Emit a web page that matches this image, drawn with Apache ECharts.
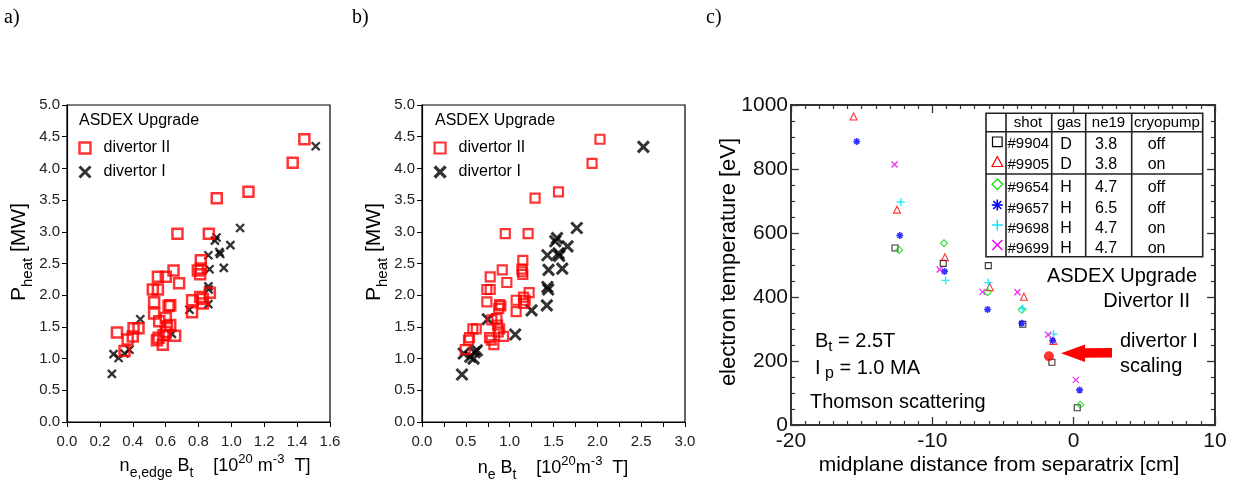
<!DOCTYPE html>
<html>
<head>
<meta charset="utf-8">
<script src="https://cdn.jsdelivr.net/npm/echarts/dist/echarts.min.js"></script>
<style>html,body{margin:0;padding:0;background:#fff}#main{width:1234px;height:486px}</style>
</head>
<body>
<div id="main"></div>
<script>
// a) P_heat vs n_e,edge*B_t
var divIIa = [[1.444,4.46],[1.373,4.09],[1.104,3.63],[0.911,3.53],[0.672,2.97],[0.863,2.97],[0.814,2.55],[0.796,2.39],[0.814,2.42],[0.81,2.33],[0.648,2.39],[0.553,2.29],[0.601,2.29],[0.682,2.19],[0.522,2.09],[0.553,2.09],[0.53,1.89],[0.53,1.71],[0.561,1.59],[0.601,1.64],[0.618,1.83],[0.628,1.84],[0.608,1.51],[0.628,1.53],[0.601,1.42],[0.587,1.37],[0.547,1.29],[0.557,1.33],[0.583,1.22],[0.658,1.36],[0.761,1.92],[0.761,1.73],[0.81,1.97],[0.826,1.94],[0.826,1.87],[0.869,2.04],[0.304,1.41],[0.405,1.48],[0.435,1.48],[0.40,1.35],[0.369,1.30],[0.35,1.12]];
var divIa = [[1.513,4.35],[1.053,3.06],[0.994,2.79],[0.954,2.43],[0.927,2.68],[0.932,2.65],[0.90,2.86],[0.91,2.91],[0.86,2.63],[0.867,2.41],[0.86,2.14],[0.862,2.09],[0.86,1.86],[0.745,1.77],[0.446,1.62],[0.638,1.39],[0.283,1.07],[0.314,1.01],[0.38,1.14],[0.35,1.08],[0.273,0.76]];
// b) P_heat vs n_e*B_t
var divIIb = [[2.03,4.46],[1.94,4.08],[1.557,3.63],[1.29,3.53],[0.95,2.97],[1.21,2.97],[1.15,2.55],[1.14,2.41],[1.145,2.37],[1.15,2.33],[0.915,2.40],[0.778,2.29],[0.968,2.20],[0.74,2.09],[0.778,2.09],[0.74,1.895],[0.885,1.85],[0.90,1.83],[0.875,1.79],[1.074,1.92],[1.074,1.74],[1.158,1.97],[1.177,1.92],[1.158,1.87],[1.222,2.04],[0.797,1.61],[0.854,1.63],[0.862,1.53],[0.885,1.47],[0.87,1.42],[0.93,1.35],[0.77,1.33],[0.79,1.29],[0.82,1.22],[0.58,1.47],[0.619,1.47],[0.542,1.33],[0.53,1.29],[0.493,1.14]];
var divIb = [[2.525,4.34],[1.766,3.06],[1.66,2.77],[1.60,2.42],[1.557,2.66],[1.565,2.62],[1.52,2.85],[1.54,2.90],[1.43,2.63],[1.443,2.40],[1.43,2.13],[1.44,2.09],[1.424,1.84],[1.25,1.76],[0.75,1.62],[1.063,1.38],[0.475,1.08],[0.55,1.03],[0.626,1.13],[0.588,1.0],[0.60,1.10],[0.456,0.75]];
// c) electron temperature vs midplane distance, one list per shot
var shots = ['#9904','#9905','#9654','#9657','#9698','#9699'];
var gases = ['D','D','H','H','H','H'];
var ne19 = ['3.8','3.8','4.7','6.5','4.7','4.7'];
var cryo = ['off','on','off','off','on','on'];
var te9904 = [[-12.64,553],[-9.23,505],[-6.04,498],[-3.6,315],[-1.54,196],[0.25,54]];
var te9905 = [[-15.57,964],[-12.5,673],[-9.11,524],[-5.94,431],[-3.52,401],[-1.44,263]];
var te9654 = [[-12.35,547],[-9.18,568],[-6.09,415],[-3.67,360],[0.47,63]];
var te9657 = [[-15.35,886],[-12.3,592],[-9.14,480],[-6.09,361],[-3.67,318],[-1.49,264],[0.42,109]];
var te9698 = [[-12.23,697],[-9.06,452],[-6.04,445],[-3.6,364],[-1.42,284]];
var te9699 = [[-12.67,814],[-9.48,486],[-6.45,416],[-3.98,415],[-1.8,282],[0.15,141]];
var scalingDivI = [[-1.75,215]];

var FONT = 'Liberation Sans, Arial, sans-serif';
var CROSS = 'path://M0,0L10,10M10,0L0,10';
var PLUS = 'path://M5,0L5,10M0,5L10,5';
var STAR = 'path://M5,0L5,10M0,5L10,5M1.5,1.5L8.5,8.5M8.5,1.5L1.5,8.5';
var RED = '#ff0000', GREEN = '#00d800', BLUE = '#0000ff', CYAN = '#00e0ff', MAGENTA = '#ee00ee';

function fix1(v) { return v.toFixed(1); }

function abAxisX(grid, max, interval, minor) {
    return {
        gridIndex: grid, type: 'value', min: 0, max: max, interval: interval,
        axisLine: {show: true, onZero: false, lineStyle: {color: '#000', width: 1.2}},
        axisTick: {show: true, length: 5, lineStyle: {color: '#000', width: 1}},
        minorTick: {show: minor > 0, splitNumber: minor || 2, length: 5, lineStyle: {color: '#000', width: 1}},
        axisLabel: {fontSize: 15, color: '#222', margin: 12, fontFamily: FONT, formatter: fix1, showMinLabel: true, showMaxLabel: true},
        splitLine: {show: false}, minorSplitLine: {show: false}
    };
}
function abAxisY(grid) {
    return {
        gridIndex: grid, type: 'value', min: 0, max: 5, interval: 0.5,
        axisLine: {show: true, onZero: false, lineStyle: {color: '#000', width: 1.2}},
        axisTick: {show: true, length: 5, lineStyle: {color: '#000', width: 1}},
        axisLabel: {fontSize: 15, color: '#222', margin: 7, fontFamily: FONT, formatter: fix1, showMinLabel: true, showMaxLabel: true},
        splitLine: {show: false}
    };
}
function cAxis(isX, pos, labels) {
    return {
        gridIndex: 2, type: 'value', position: pos,
        min: isX ? -20 : 0, max: isX ? 10 : 1000, interval: isX ? 10 : 200,
        axisLine: {show: true, onZero: false, lineStyle: {color: '#333', width: 2}},
        axisTick: {show: true, inside: true, length: 8, lineStyle: {color: '#333', width: 1.3}},
        minorTick: {show: true, splitNumber: isX ? 10 : 4, length: 4, lineStyle: {color: '#333', width: 1.2}},
        axisLabel: {show: labels, fontSize: 21, color: '#111', margin: isX ? 6 : 3, fontFamily: FONT,
            formatter: function (v) { return String(v); }, showMinLabel: true, showMaxLabel: true},
        splitLine: {show: false}, minorSplitLine: {show: false}
    };
}

function sq(name, data, xi, size, bw) {
    return {name: name, type: 'scatter', xAxisIndex: xi, yAxisIndex: xi, data: data, symbol: 'rect', symbolSize: size,
        itemStyle: {color: 'transparent', borderColor: RED, borderWidth: bw}, z: 3};
}
function cr(name, data, xi, size, bw) {
    return {name: name, type: 'scatter', xAxisIndex: xi, yAxisIndex: xi, data: data, symbol: CROSS, symbolSize: size,
        itemStyle: {color: 'transparent', borderColor: '#000', borderWidth: bw}, z: 2};
}
function shot(name, data, symbol, color, size, bw) {
    return {name: name, type: 'scatter', xAxisIndex: 2, yAxisIndex: 2, data: data, symbol: symbol, symbolSize: size,
        itemStyle: {color: 'transparent', borderColor: color, borderWidth: bw}};
}

function t(x, y, text, fs, align, extra) {
    var s = {x: 0, y: 0, text: text, fontSize: fs, fontFamily: FONT, fill: '#000', align: align || 'left', verticalAlign: 'middle'};
    for (var k in extra) s[k] = extra[k];
    return {type: 'text', x: x, y: y, style: s, z: 10};
}
function richSet(main, sub, subDrop) {
    return {
        m: {fontSize: main, fontFamily: FONT, fill: '#000'},
        s: {fontSize: sub, fontFamily: FONT, fill: '#000', padding: [subDrop, 0, 0, 0]},
        p: {fontSize: sub - 1, fontFamily: FONT, fill: '#000', padding: [0, 0, subDrop, 0]}
    };
}
function ln(x1, y1, x2, y2, color, w) {
    return {type: 'line', shape: {x1: x1, y1: y1, x2: x2, y2: y2}, style: {stroke: color, lineWidth: w}, z: 10};
}

// table in panel c
var tbl = [];
tbl.push({type: 'rect', shape: {x: 986, y: 113.3, width: 216.7, height: 143.4}, style: {fill: '#fff', stroke: '#222', lineWidth: 1.6}, z: 9});
[1006, 1051.7, 1085.7, 1131.7].forEach(function (x) { tbl.push(ln(x, 113.3, x, 256.7, '#222', 1.6)); });
tbl.push(ln(986, 131.7, 1202.7, 131.7, '#222', 1.6));
tbl.push(ln(986, 174, 1202.7, 174, '#222', 1.6));
tbl.push(t(1028, 123, 'shot', 15, 'center'));
tbl.push(t(1069, 123, 'gas', 15, 'center'));
tbl.push(t(1108.5, 123, 'ne19', 15, 'center'));
tbl.push(t(1167, 123, 'cryopump', 15, 'center'));
var rowY = [144.3, 165, 187.7, 208.7, 229, 249];
shots.forEach(function (s, i) {
    tbl.push(t(1007.5, rowY[i], s, 15, 'left'));
    tbl.push(t(1066, rowY[i], gases[i], 16, 'center'));
    tbl.push(t(1106, rowY[i], ne19[i], 16, 'center'));
    tbl.push(t(1147.7, rowY[i], cryo[i], 16, 'left'));
});
var sx = 997.3;
tbl.push({type: 'rect', shape: {x: sx - 4.8, y: 137, width: 9.6, height: 9.6}, style: {fill: 'none', stroke: '#000', lineWidth: 1.2}, z: 10});
tbl.push({type: 'polygon', shape: {points: [[sx, 156.5], [sx + 5.3, 166.5], [sx - 5.3, 166.5]]}, style: {fill: 'none', stroke: RED, lineWidth: 1.2}, z: 10});
tbl.push({type: 'polygon', shape: {points: [[sx, 179], [sx + 5.3, 184.3], [sx, 189.6], [sx - 5.3, 184.3]]}, style: {fill: 'none', stroke: GREEN, lineWidth: 1.2}, z: 10});
tbl.push(ln(sx, 199.5, sx, 210.5, BLUE, 1.6), ln(sx - 5.5, 205, sx + 5.5, 205, BLUE, 1.6), ln(sx - 4, 201, sx + 4, 209, BLUE, 1.6), ln(sx + 4, 201, sx - 4, 209, BLUE, 1.6));
tbl.push(ln(sx, 219.5, sx, 230.5, CYAN, 1.4), ln(sx - 5.5, 225, sx + 5.5, 225, CYAN, 1.4));
tbl.push(ln(sx - 5, 240, sx + 5, 250, MAGENTA, 1.4), ln(sx + 5, 240, sx - 5, 250, MAGENTA, 1.4));

var graphics = [
    t(4, 18, 'a)', 20, 'left', {fontFamily: 'Liberation Serif, Times New Roman, serif'}),
    t(352, 18, 'b)', 20, 'left', {fontFamily: 'Liberation Serif, Times New Roman, serif'}),
    t(706, 18, 'c)', 20, 'left', {fontFamily: 'Liberation Serif, Times New Roman, serif'}),
    t(79, 121, 'ASDEX Upgrade', 16),
    t(435, 121, 'ASDEX Upgrade', 16),
    {type: 'text', x: 19, y: 252, rotation: Math.PI / 2, z: 10,
        style: {text: '{m|P}{s|heat}{m| [MW]}', align: 'center', verticalAlign: 'middle', rich: richSet(21, 15, 18)}},
    {type: 'text', x: 374, y: 252, rotation: Math.PI / 2, z: 10,
        style: {text: '{m|P}{s|heat}{m| [MW]}', align: 'center', verticalAlign: 'middle', rich: richSet(21, 15, 18)}},
    {type: 'text', x: 215, y: 466, z: 10,
        style: {text: '{m|n}{s|e,edge}{m| B}{s|t}{m|    [10}{p|20}{m| m}{p|-3}{m|  T]}', align: 'center', verticalAlign: 'middle', rich: richSet(18, 14, 14)}},
    {type: 'text', x: 553, y: 468, z: 10,
        style: {text: '{m|n}{s|e}{m| B}{s|t}{m|    [10}{p|20}{m|m}{p|-3}{m|  T]}', align: 'center', verticalAlign: 'middle', rich: richSet(18, 14, 14)}},
    // panel c
    {type: 'text', x: 729, y: 262, rotation: Math.PI / 2, z: 10,
        style: {text: 'electron temperature [eV]', fontSize: 22, fontFamily: FONT, fill: '#000', align: 'center', verticalAlign: 'middle'}},
    t(999, 465, 'midplane distance from separatrix [cm]', 21, 'center'),
    t(1197, 276, 'ASDEX Upgrade', 20, 'right'),
    t(1190, 301, 'Divertor II', 20, 'right'),
    {type: 'text', x: 815, y: 341, z: 10,
        style: {text: '{m|B}{s|t}{m| = 2.5T}', align: 'left', verticalAlign: 'middle', rich: richSet(20, 15, 12)}},
    {type: 'text', x: 815, y: 368, z: 10,
        style: {text: '{m|I}{s| p}{m| = 1.0 MA}', align: 'left', verticalAlign: 'middle', rich: richSet(20, 16, 12)}},
    t(810, 402, 'Thomson scattering', 20, 'left'),
    t(1120, 341, 'divertor I', 20, 'left'),
    t(1120, 366, 'scaling', 20, 'left'),
    {type: 'polygon', z: 10, shape: {points: [[1061, 353.3], [1085, 344.5], [1085, 348.3], [1112, 348], [1112, 357.5], [1085, 357.8], [1085, 362]]},
        style: {fill: RED}}
].concat(tbl);

var chart = echarts.init(document.getElementById('main'));
chart.setOption({
    animation: false,
    backgroundColor: '#fff',
    textStyle: {fontFamily: FONT},
    grid: [
        {left: 67, top: 105, width: 263, height: 317, show: true, borderColor: '#000', borderWidth: 1.2, backgroundColor: 'transparent'},
        {left: 422, top: 105, width: 263, height: 317, show: true, borderColor: '#000', borderWidth: 1.2, backgroundColor: 'transparent'},
        {left: 791, top: 105, width: 424, height: 320, show: true, borderColor: '#333', borderWidth: 2, backgroundColor: 'transparent'}
    ],
    xAxis: [abAxisX(0, 1.6, 0.2, 0), abAxisX(1, 3, 0.5, 2), cAxis(true, 'bottom', true), cAxis(true, 'top', false)],
    yAxis: [abAxisY(0), abAxisY(1), cAxis(false, 'left', true), cAxis(false, 'right', false)],
    legend: [
        {left: 78, top: 140, padding: 0, orient: 'vertical', itemWidth: 11, itemHeight: 11, itemGap: 8, selectedMode: false,
            textStyle: {fontSize: 16, color: '#000', fontFamily: FONT, padding: [0, 0, 0, 8]},
            data: [
                {name: 'divertor II', icon: 'rect', itemStyle: {color: 'transparent', borderColor: RED, borderWidth: 2.5}},
                {name: 'divertor I', icon: CROSS, itemStyle: {color: 'transparent', borderColor: '#000', borderWidth: 3}}
            ]},
        {left: 433, top: 140, padding: 0, orient: 'vertical', itemWidth: 11, itemHeight: 11, itemGap: 8, selectedMode: false,
            textStyle: {fontSize: 16, color: '#000', fontFamily: FONT, padding: [0, 0, 0, 8]},
            data: [
                {name: 'divertor II', icon: 'rect', itemStyle: {color: 'transparent', borderColor: RED, borderWidth: 2.2}},
                {name: 'divertor I', icon: CROSS, itemStyle: {color: 'transparent', borderColor: '#000', borderWidth: 3.2}}
            ]}
    ],
    series: [
        cr('divertor I', divIa, 0, 8, 2.3),
        sq('divertor II', divIIa, 0, 10, 2.5),
        cr('divertor I', divIb, 1, 11, 3),
        sq('divertor II', divIIb, 1, 9, 2.2),
        shot('#9904', te9904, 'rect', '#000', 6, 1.1),
        shot('#9905', te9905, 'triangle', RED, 7, 1.1),
        shot('#9654', te9654, 'diamond', GREEN, 7, 1.1),
        shot('#9657', te9657, STAR, BLUE, 7, 1.6),
        shot('#9698', te9698, PLUS, CYAN, 8, 1.4),
        shot('#9699', te9699, CROSS, MAGENTA, 6, 1.4),
        {name: 'divertor I scaling', type: 'scatter', xAxisIndex: 2, yAxisIndex: 2, data: scalingDivI, symbol: 'circle', symbolSize: 10,
            itemStyle: {color: RED}, z: 4}
    ],
    graphic: graphics
});
</script>
</body>
</html>
